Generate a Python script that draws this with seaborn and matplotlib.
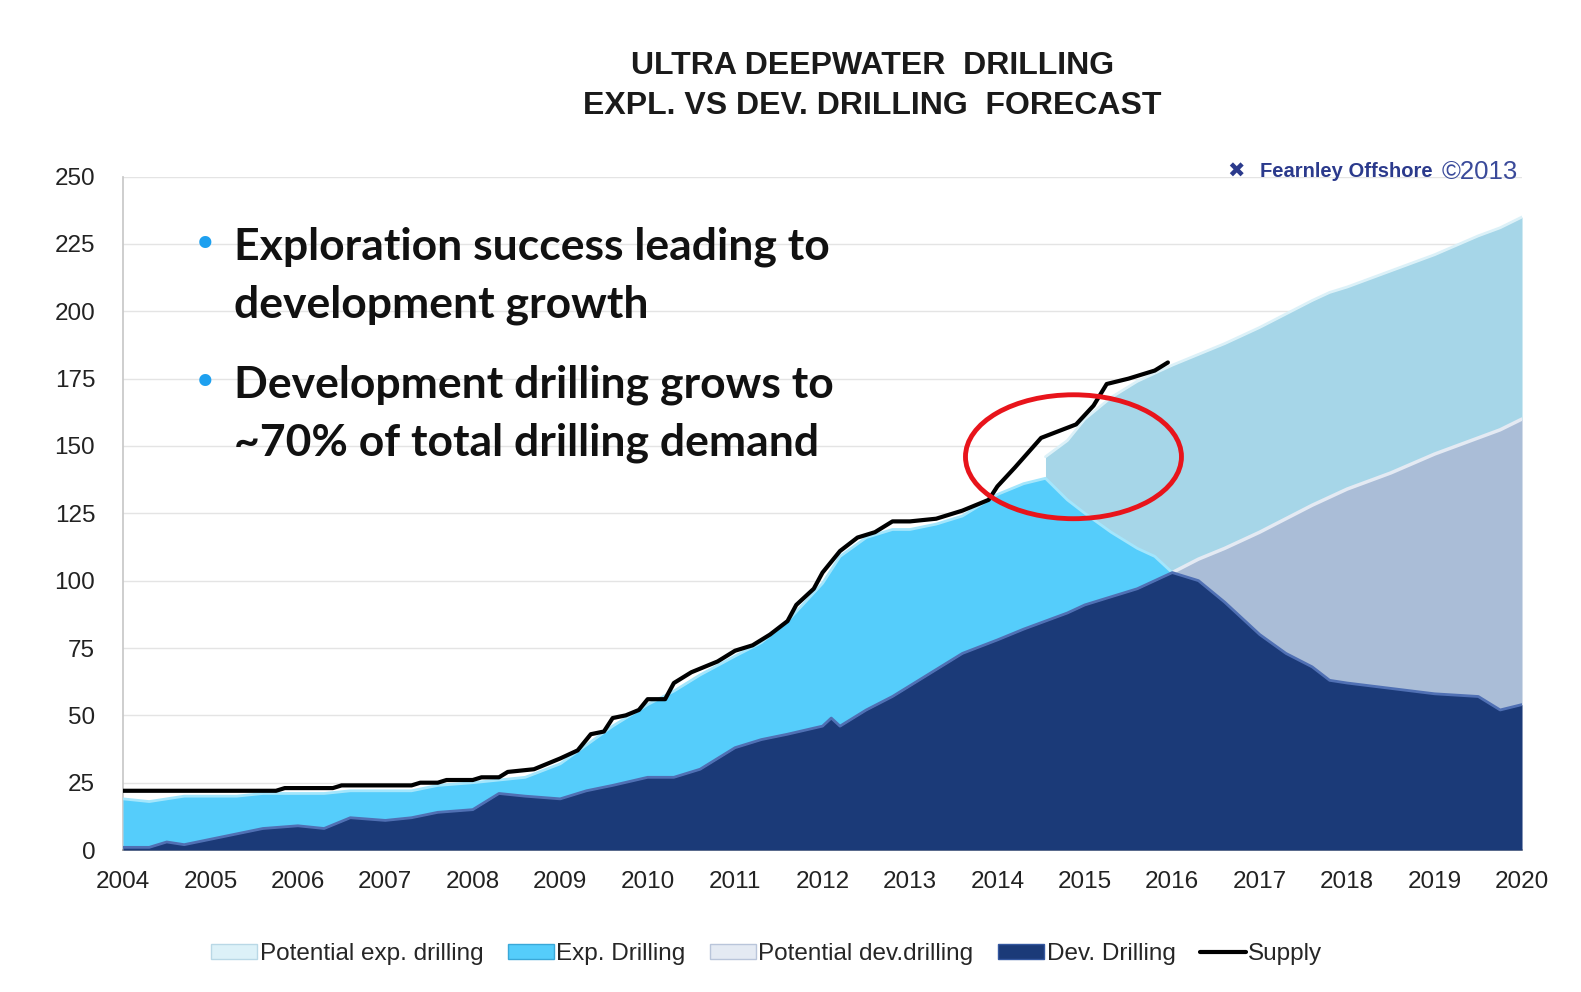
import numpy as np
import matplotlib
matplotlib.use("Agg")
import matplotlib.pyplot as plt
from matplotlib.patches import Patch, Ellipse
from matplotlib.lines import Line2D
import seaborn as sns

# ---------------------------
# data
# ---------------------------
supply_year = [2004.0, 2005.75, 2005.85, 2006.4, 2006.5, 2007.3, 2007.4, 2007.6, 2007.7, 2008.0,
               2008.1, 2008.3, 2008.4, 2008.7, 2009.0, 2009.2, 2009.35, 2009.5, 2009.6, 2009.75,
               2009.9, 2010.0, 2010.2, 2010.3, 2010.5, 2010.8, 2011.0, 2011.2, 2011.4, 2011.6,
               2011.7, 2011.9, 2012.0, 2012.2, 2012.4, 2012.6, 2012.8, 2013.0, 2013.3, 2013.6,
               2013.9, 2014.0, 2014.2, 2014.5, 2014.9, 2015.1, 2015.25, 2015.5, 2015.8, 2015.95]
supply = [22, 22, 23, 23, 24, 24, 25, 25, 26, 26,
          27, 27, 29, 30, 34, 37, 43, 44, 49, 50,
          52, 56, 56, 62, 66, 70, 74, 76, 80, 85,
          91, 97, 103, 111, 116, 118, 122, 122, 123, 126,
          130, 135, 142, 153, 158, 165, 173, 175, 178, 181]

area_year = [2004.0, 2004.3, 2004.5, 2004.7, 2005.0, 2005.3, 2005.6, 2006.0, 2006.3, 2006.6,
             2007.0, 2007.3, 2007.6, 2008.0, 2008.3, 2008.6, 2009.0, 2009.3, 2009.6, 2010.0,
             2010.3, 2010.6, 2011.0, 2011.3, 2011.6, 2012.0, 2012.1, 2012.2, 2012.5, 2012.8,
             2013.0, 2013.3, 2013.6, 2014.0, 2014.3, 2014.55, 2014.8, 2015.0, 2015.3, 2015.6,
             2015.8, 2016.0, 2016.3, 2016.6, 2016.8, 2017.0, 2017.3, 2017.6, 2017.8, 2018.0,
             2018.5, 2019.0, 2019.5, 2019.75, 2020.0]
nan = np.nan
# dev drilling (bottom layer)
dev = [1, 1, 3, 2, 4, 6, 8, 9, 8, 12,
       11, 12, 14, 15, 21, 20, 19, 22, 24, 27,
       27, 30, 38, 41, 43, 46, 49, 46, 52, 57,
       61, 67, 73, 78, 82, 85, 88, 91, 94, 97,
       100, 103, 100, 92, 86, 80, 73, 68, 63, 62,
       60, 58, 57, 52, 54]
# top of exp. drilling (dev + exp)
exp_top = [19, 18, 19, 20, 20, 20, 21, 21, 21, 22,
           22, 22, 24, 25, 26, 27, 32, 39, 46, 54,
           59, 65, 72, 77, 85, 99, 104, 109, 116, 119,
           119, 121, 124, 132, 136, 138, 130, 125, 118, 112,
           109, 103, nan, nan, nan, nan, nan, nan, nan, nan,
           nan, nan, nan, nan, nan]
# top of potential dev. drilling
pot_dev_top = [nan] * 41 + [103, 108, 112, 115, 118, 123, 128, 131, 134,
                            140, 147, 153, 156, 160]
# top of potential exp. drilling
pot_exp_top = [nan] * 35 + [146, 152, 160, 168, 174,
                            177, 180, 184, 188, 191, 194, 199, 204, 207, 209,
                            215, 221, 228, 231, 235]

legend_labels = ["Potential exp. drilling", "Exp. Drilling", "Potential dev.drilling",
                 "Dev. Drilling", "Supply"]

# ---------------------------
# style
# ---------------------------
sns.set_theme(style="white")
plt.rcParams["font.family"] = ["Liberation Sans", "DejaVu Sans"]

c_dev, c_dev_edge = "#1b3a78", "#5070b4"
c_exp, c_exp_edge = "#55cdfb", "#a4e6fc"
c_pdev, c_pdev_edge = "#aabdd7", "#e4eaf3"
c_pexp, c_pexp_edge = "#a6d6e8", "#dcf1f8"

fig = plt.figure(figsize=(15.81, 9.92), dpi=100)
ax = fig.add_axes([0.0778, 0.1431, 0.8849, 0.6789])

x = np.array(area_year)
dev_a = np.array(dev, dtype=float)
exp_a = np.array(exp_top, dtype=float)
pdev_a = np.array(pot_dev_top, dtype=float)
pexp_a = np.array(pot_exp_top, dtype=float)
pexp_low = np.where(np.isnan(exp_a), pdev_a, exp_a)

ax.fill_between(x, pexp_low, pexp_a, where=~np.isnan(pexp_a), color=c_pexp, lw=0, zorder=2)
ax.plot(x, pexp_a, color=c_pexp_edge, lw=2, zorder=2.1)
ax.fill_between(x, dev_a, pdev_a, where=~np.isnan(pdev_a), color=c_pdev, lw=0, zorder=2)
ax.plot(x, pdev_a, color=c_pdev_edge, lw=2.5, zorder=2.1)
ax.fill_between(x, dev_a, exp_a, where=~np.isnan(exp_a), color=c_exp, lw=0, zorder=3)
ax.plot(x, exp_a, color=c_exp_edge, lw=2, zorder=3.1)
ax.fill_between(x, 0, dev_a, color=c_dev, lw=0, zorder=4)
ax.plot(x, dev_a, color=c_dev_edge, lw=2, zorder=4.1)

sns.lineplot(x=supply_year, y=supply, color="black", lw=3, ax=ax, zorder=6)

# red highlight ellipse
ax.add_patch(Ellipse((2014.87, 146), 2.47, 46, fill=False, edgecolor="#e8141b",
                     lw=3.5, zorder=7, clip_on=False))

ax.set_xlim(2004, 2020)
ax.set_ylim(0, 250)
ax.set_xticks(range(2004, 2021))
ax.set_yticks(range(0, 251, 25))
ax.tick_params(axis="both", labelsize=17.5, colors="#222222", length=6,
               direction="out", color="#a0a0a0", width=1)
ax.tick_params(axis="x", pad=9)
ax.tick_params(axis="y", pad=14)
ax.yaxis.grid(True, color="#e4e4e4", lw=1)
ax.set_axisbelow(True)
for s in ["top", "right"]:
    ax.spines[s].set_visible(False)
ax.spines["left"].set_color("#c8c8c8")
ax.spines["bottom"].set_color("#9a9a9a")
ax.set_xlabel("")
ax.set_ylabel("")

# ---------------------------
# texts
# ---------------------------
fig.text(0.552, 0.933, "ULTRA DEEPWATER  DRILLING", ha="center", va="center",
         fontsize=23, fontweight="bold", color="#1a1a1a")
fig.text(0.552, 0.893, "EXPL. VS DEV. DRILLING  FORECAST", ha="center", va="center",
         fontsize=23, fontweight="bold", color="#1a1a1a")

bullet_font = ["Lato", "DejaVu Sans"]
for yy, lines in [(0.751, ["Exploration success leading to", "development growth"]),
                  (0.612, ["Development drilling grows to", "~70% of total drilling demand"])]:
    fig.text(0.1295, yy + 0.001, "\u2022", ha="center", va="center", fontsize=30,
             color="#1ea0ef", family=["DejaVu Sans"])
    fig.text(0.148, yy, lines[0], ha="left", va="center", fontsize=32,
             fontweight="bold", color="#111111", family=bullet_font)
    fig.text(0.148, yy - 0.058, lines[1], ha="left", va="center", fontsize=32,
             fontweight="bold", color="#111111", family=bullet_font)

# logo
fig.text(0.782, 0.827, "\u2716", ha="center", va="center", fontsize=15, color="#2b3a8c",
         family=["DejaVu Sans"])
fig.text(0.906, 0.827, "Fearnley Offshore", ha="right", va="center", fontsize=14.5,
         fontweight="bold", color="#2b3a8c")
fig.text(0.960, 0.827, "\u00a92013", ha="right", va="center", fontsize=18.5,
         color="#3a4a9a")

# legend
handles = [Patch(facecolor=c_pexp_edge, edgecolor="#b9d8e6"),
           Patch(facecolor=c_exp, edgecolor="#3aa8d8"),
           Patch(facecolor=c_pdev_edge, edgecolor="#b9c5da"),
           Patch(facecolor=c_dev, edgecolor="#3558a0"),
           Line2D([0], [0], color="black", lw=3)]
fig.legend(handles, legend_labels, loc="center", bbox_to_anchor=(0.485, 0.038), ncol=5,
           frameon=False, fontsize=17.5, handlelength=1.9, handleheight=0.6,
           handletextpad=0.1, columnspacing=1.0)

fig.savefig("out.png", dpi=100, facecolor="white")
